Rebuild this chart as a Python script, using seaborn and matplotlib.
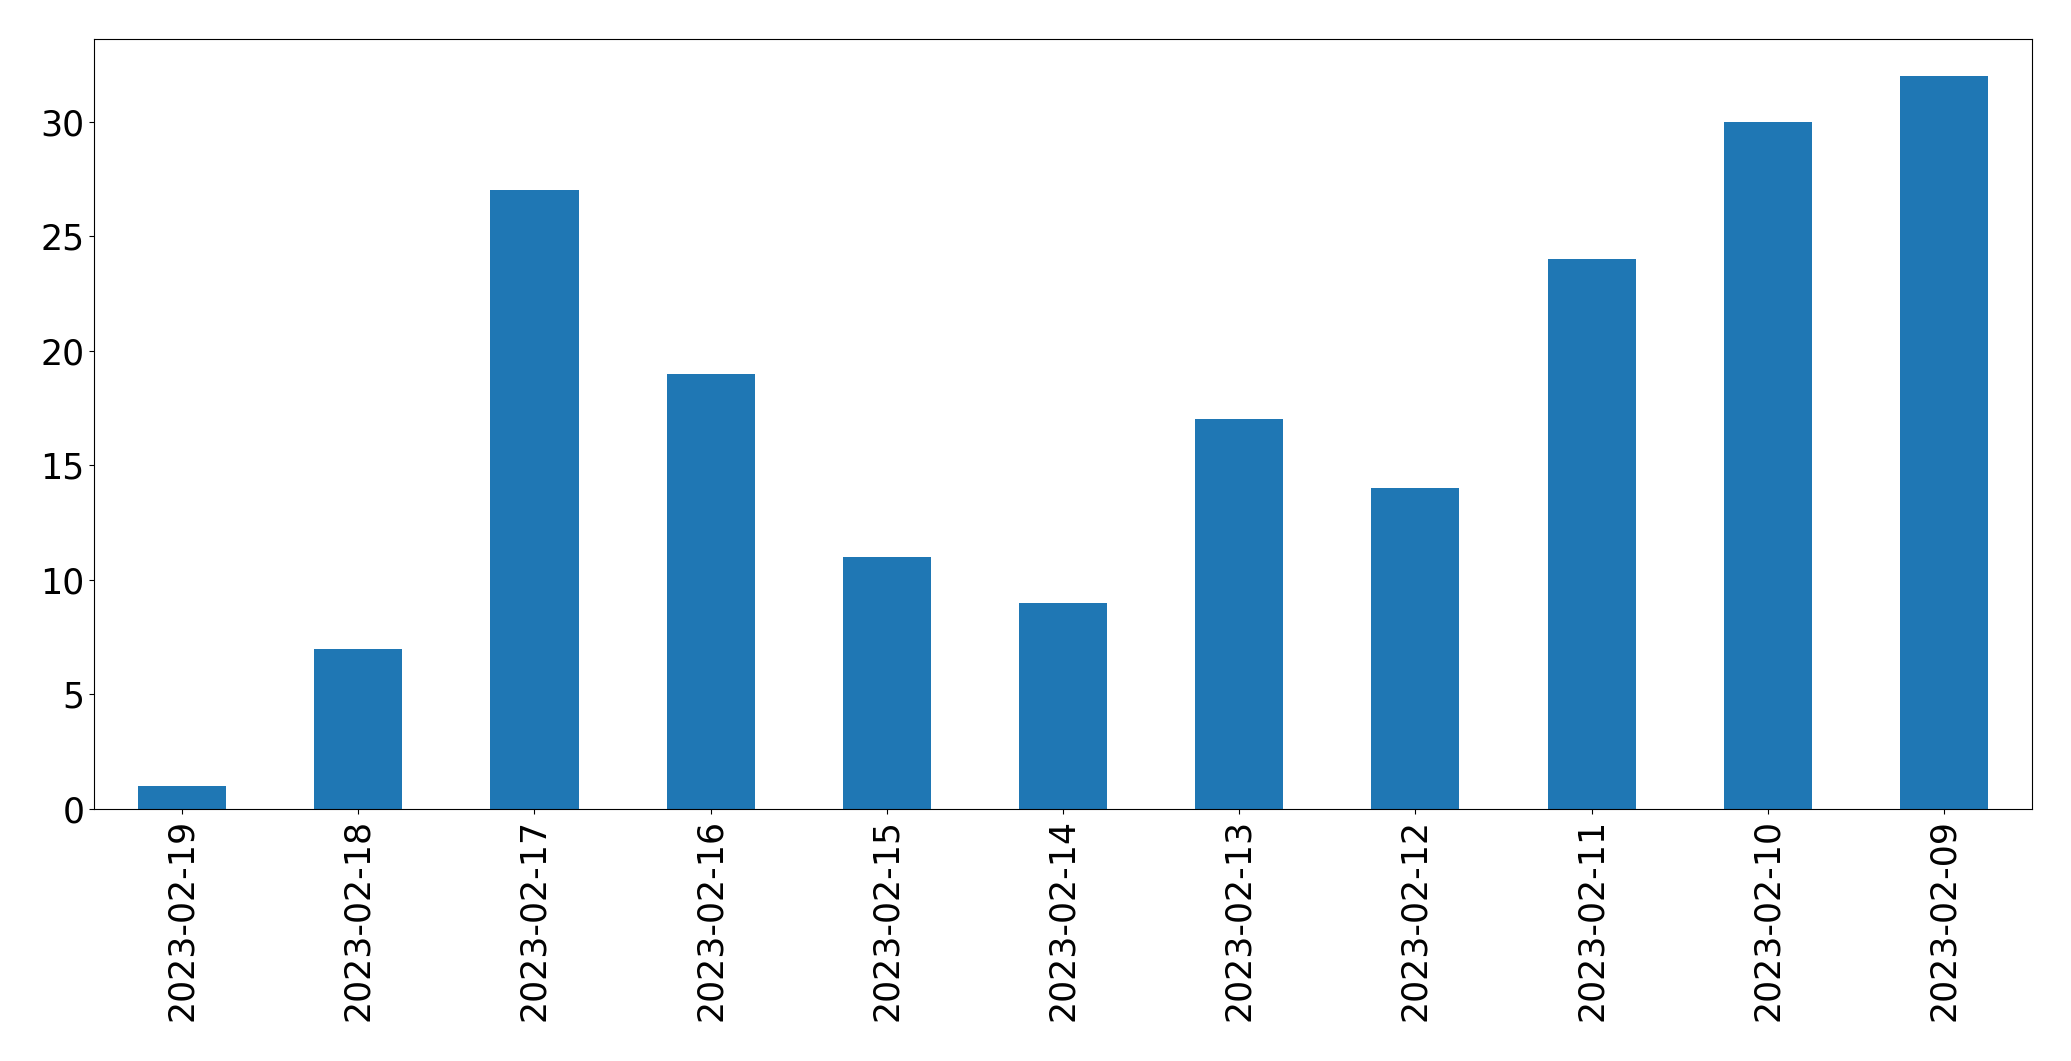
import matplotlib
matplotlib.use("Agg")
import matplotlib.pyplot as plt
import pandas as pd
import seaborn as sns

dates = ["2023-02-19", "2023-02-18", "2023-02-17", "2023-02-16", "2023-02-15",
         "2023-02-14", "2023-02-13", "2023-02-12", "2023-02-11", "2023-02-10",
         "2023-02-09"]
counts = [1, 7, 27, 19, 11, 9, 17, 14, 24, 30, 32]

FONT_SIZE = 25


def main():
    df = pd.DataFrame({"date": dates, "count": counts})

    fig = plt.figure(figsize=(20.71, 10.61), dpi=100)
    ax = fig.add_axes([94 / 2071, 252 / 1061, 1938 / 2071, 770 / 1061])
    sns.barplot(data=df, x="date", y="count", order=dates, color="#1f77b4",
                saturation=1, width=0.5, ax=ax)
    ax.set_xlim(-0.5, len(dates) - 0.5)
    ax.set_ylim(0, max(counts) * 1.05)
    ax.set_xlabel("")
    ax.set_ylabel("")
    ax.tick_params(axis="x", labelrotation=90, labelsize=FONT_SIZE)
    ax.tick_params(axis="y", labelsize=FONT_SIZE)
    fig.savefig("out.png", dpi=100)


if __name__ == "__main__":
    main()
